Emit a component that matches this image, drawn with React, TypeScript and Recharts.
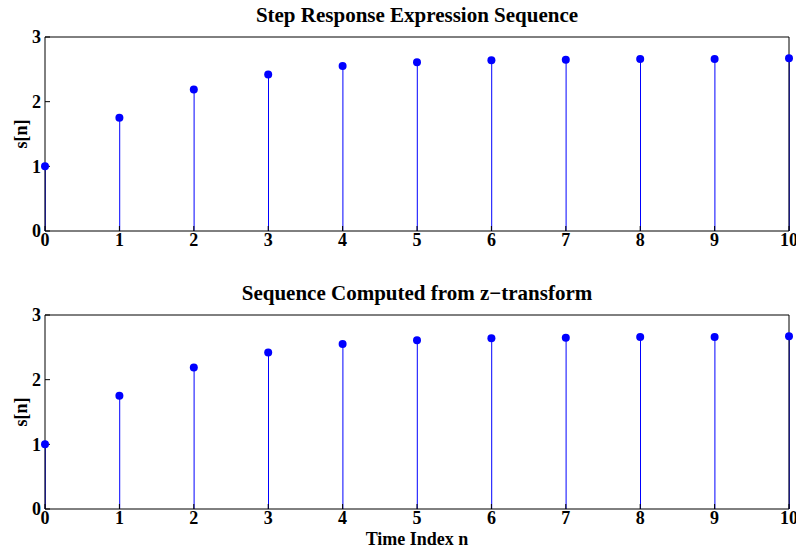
import {
  Bar,
  ComposedChart,
  Line,
  XAxis,
  YAxis,
} from "recharts";

const timeIndex = [0, 1, 2, 3, 4, 5, 6, 7, 8, 9, 10];
const stepResponse = [1, 1.75, 2.19, 2.42, 2.55, 2.61, 2.64, 2.65, 2.66, 2.66, 2.67];
const zTransformSequence = [1, 1.75, 2.19, 2.42, 2.55, 2.61, 2.64, 2.65, 2.66, 2.66, 2.67];
const xTicks = [0, 1, 2, 3, 4, 5, 6, 7, 8, 9, 10];
const yTicks = [0, 1, 2, 3];

const FONT = "'Liberation Serif', 'Times New Roman', serif";
const STEM = "#0000ff";
const tickStyle = { fontFamily: FONT, fontWeight: 700, fontSize: 18, fill: "#000" };

function StemPanel({
  values,
  title,
  top,
  marginTop,
  marginBottom,
}: {
  values: number[];
  title: string;
  top: number;
  marginTop: number;
  marginBottom: number;
}) {
  const data = timeIndex.map((n, i) => ({ n, s: values[i] }));

  return (
    <div style={{ position: "absolute", left: 0, top, width: 796, height: 276 }}>
      <div
        style={{
          position: "absolute",
          left: 45,
          width: 744,
          top: marginTop - 33,
          textAlign: "center",
          fontFamily: FONT,
          fontWeight: 700,
          fontSize: 21,
          lineHeight: "24px",
          whiteSpace: "nowrap",
        }}
      >
        {title}
      </div>
      <ComposedChart
        width={796}
        height={276}
        data={data}
        margin={{ top: marginTop, right: 6, bottom: marginBottom, left: 0 }}
      >
        <XAxis
          xAxisId="bottom"
          dataKey="n"
          type="number"
          domain={[0, 10]}
          ticks={xTicks}
          interval={0}
          height={30}
          tickSize={-5}
          tickMargin={7}
          stroke="#000"
          tick={tickStyle}
        />
        <XAxis
          xAxisId="top"
          orientation="top"
          dataKey="n"
          type="number"
          domain={[0, 10]}
          ticks={xTicks}
          height={1}
          tickSize={-5}
          tick={false}
          stroke="#000"
        />
        <YAxis
          yAxisId="left"
          type="number"
          domain={[0, 3]}
          ticks={yTicks}
          width={45}
          tickSize={-5}
          tickMargin={9}
          stroke="#000"
          tick={tickStyle}
          label={{
            value: "s[n]",
            angle: -90,
            position: "insideLeft",
            offset: 21,
            style: { ...tickStyle, textAnchor: "middle" },
          }}
        />
        <YAxis
          yAxisId="right"
          orientation="right"
          type="number"
          domain={[0, 3]}
          ticks={yTicks}
          width={1}
          tickSize={-5}
          tick={false}
          stroke="#000"
        />
        <Bar
          xAxisId="bottom"
          yAxisId="left"
          dataKey="s"
          barSize={1}
          fill={STEM}
          isAnimationActive={false}
        />
        <Line
          xAxisId="bottom"
          yAxisId="left"
          dataKey="s"
          stroke="none"
          dot={{ r: 4, fill: STEM, stroke: STEM, strokeWidth: 0 }}
          activeDot={false}
          isAnimationActive={false}
        />
      </ComposedChart>
    </div>
  );
}

export default function App() {
  return (
    <div style={{ position: "absolute", left: 0, top: 0, width: 796, height: 552, background: "#fff" }}>
      <StemPanel
        values={stepResponse}
        title="Step Response Expression Sequence"
        top={0}
        marginTop={36}
        marginBottom={15}
      />
      <StemPanel
        values={zTransformSequence}
        title="Sequence Computed from z−transform"
        top={276}
        marginTop={38}
        marginBottom={13}
      />
      <div
        style={{
          position: "absolute",
          left: 45,
          width: 744,
          top: 528,
          textAlign: "center",
          fontFamily: FONT,
          fontWeight: 700,
          fontSize: 18,
          lineHeight: "22px",
        }}
      >
        Time Index n
      </div>
    </div>
  );
}
